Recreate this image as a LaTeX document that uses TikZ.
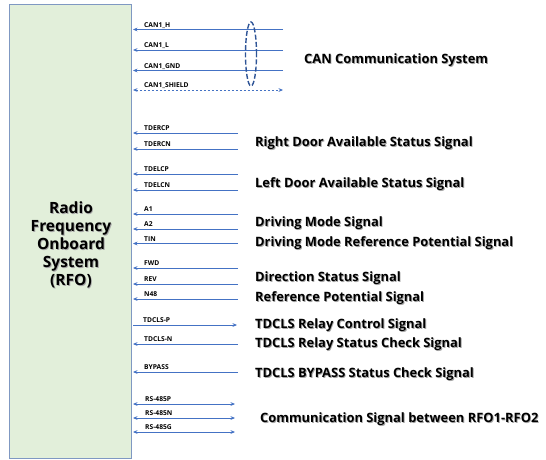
\documentclass[tikz,border=0pt]{standalone}
\usepackage{fontspec}
\setmainfont{Open Sans}
\usetikzlibrary{arrows.meta,shapes.geometric}
\definecolor{sigblue}{HTML}{4472C4}
\definecolor{ringblue}{HTML}{2F5597}
\definecolor{boxfill}{HTML}{E2EFDA}
\definecolor{boxline}{HTML}{7F98C2}
% bold caption with a soft drop shadow
\newcommand\shadowtxt[1]{\makebox[0pt][l]{\hspace{0.9pt}\raisebox{-0.9pt}{\textcolor{black!35}{#1}}}#1}
\tikzset{
  sig/.style={draw=sigblue, line width=0.9pt},
  tip/.style={-{Stealth[length=4.5pt,width=3.8pt]}},
  both/.style={{Stealth[length=4.5pt,width=3.8pt]}-{Stealth[length=4.5pt,width=3.8pt]}},
  pinlbl/.style={font=\fontsize{6.7}{7}\selectfont\bfseries, anchor=base west, inner sep=0pt},
  caption/.style={font=\fontsize{12.9}{14}\bfseries, anchor=west, inner sep=0pt},
  rfobox/.style={draw=boxline, fill=boxfill, line width=0.9pt, minimum width=122pt, minimum height=454pt, inner sep=0pt},
}
\begin{document}
\begin{tikzpicture}[x=1pt,y=-1pt]
\useasboundingbox (0,0) rectangle (546,459);
% onboard unit
\node[rfobox] (rfo) at (70,231) {};
\node[font=\fontsize{15.5}{18}\bfseries, align=center, inner sep=0pt] (rfotxt) at (71,245)
  {\shadowtxt{Radio}\\\shadowtxt{Frequency}\\\shadowtxt{Onboard}\\\shadowtxt{System}\\\shadowtxt{(RFO)}};

% signal lines: name / y / label / right end
\foreach \n/\y/\t/\xe in {
  ch/29.5/CAN1\_H/283, cl/50/CAN1\_L/283, cg/70.5/CAN1\_GND/283,
  ra/133/TDERCP/238, rb/149/TDERCN/238, la/174/TDELCP/238, lb/190/TDELCN/238,
  aa/214/A1/238, ab/229/A2/238, ti/243.5/TIN/238,
  fw/268/FWD/238, rv/284/REV/238, nf/299/N48/238,
  tn/344/TDCLS-N/238, bp/372/BYPASS/238}{
  \coordinate (\n s) at (133,\y);
  \coordinate (\n e) at (\xe,\y);
  \draw[sig, tip] (\n e) -- (\n s);
  \node[pinlbl] (\n l) at (144,\y-2.5) {\t};
}
% shield (dashed, both ways)
\coordinate (shs) at (133,90);
\coordinate (she) at (283,90);
\draw[sig, both, dash pattern=on 2.5pt off 1.5pt] (shs) -- (she);
\node[pinlbl] (shl) at (144,87.5) {CAN1\_SHIELD};
% relay control (outgoing)
\coordinate (tps) at (133,325);
\coordinate (tpe) at (237,325);
\draw[sig, tip] (tps) -- (tpe);
\node[pinlbl] (tpl) at (143,322.5) {TDCLS-P};
% RS-485 bus (both ways)
\foreach \n/\y/\t in {sp/404/RS-485P, sn/418/RS-485N, sg/432/RS-485G}{
  \coordinate (\n s) at (133,\y);
  \coordinate (\n e) at (235,\y);
  \draw[sig, both] (\n s) -- (\n e);
  \node[pinlbl] (\n l) at (145,\y-2.5) {\t};
}
% twisted-pair ring
\node[draw=ringblue, line width=1.4pt, dash pattern=on 5pt off 2.2pt, ellipse, minimum width=11pt, minimum height=64pt, inner sep=0pt] (ring) at (251,54) {};

% captions
\node[caption] (c1) at (304,60.5) {\shadowtxt{CAN Communication System}};
\node[caption] (c2) at (255,143.5) {\shadowtxt{Right Door Available Status Signal}};
\node[caption] (c3) at (255,185) {\shadowtxt{Left Door Available Status Signal}};
\node[caption] (c4) at (255,223.5) {\shadowtxt{Driving Mode Signal}};
\node[caption] (c5) at (255,243.5) {\shadowtxt{Driving Mode Reference Potential Signal}};
\node[caption] (c6) at (255,278.5) {\shadowtxt{Direction Status Signal}};
\node[caption] (c7) at (255,298.5) {\shadowtxt{Reference Potential Signal}};
\node[caption] (c8) at (255,325.5) {\shadowtxt{TDCLS Relay Control Signal}};
\node[caption] (c9) at (255,344.5) {\shadowtxt{TDCLS Relay Status Check Signal}};
\node[caption] (c10) at (255,374.5) {\shadowtxt{TDCLS BYPASS Status Check Signal}};
\node[caption] (c11) at (260,419.5) {\shadowtxt{Communication Signal between RFO1-RFO2}};
\end{tikzpicture}
\end{document}
